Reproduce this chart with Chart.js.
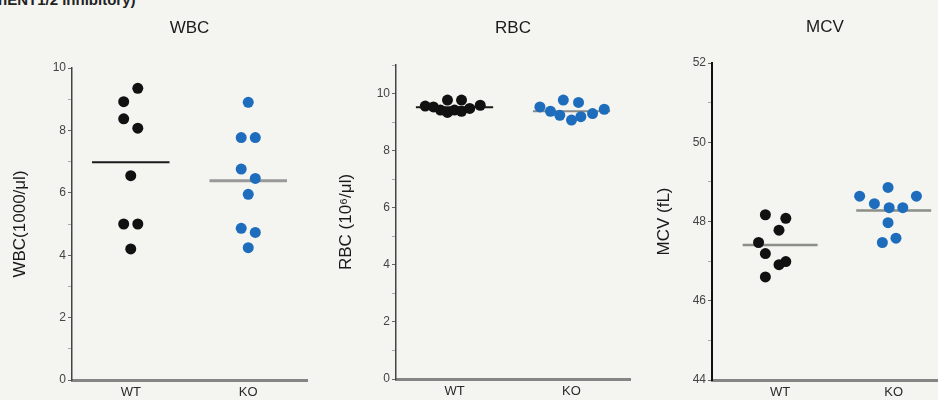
<!DOCTYPE html>
<html>
<head>
<meta charset="utf-8">
<script src="https://cdn.jsdelivr.net/npm/chart.js@4"></script>
<style>
body { margin: 0; background: #f4f4f1; width: 938px; height: 400px; overflow: hidden; position: relative; font-family: "Liberation Sans", Arial, sans-serif; }
canvas { position: absolute; top: 0; }
#wbc { left: 0; }
#rbc { left: 322px; }
#mcv { left: 640px; }
.cut { position: absolute; left: -2px; top: -9px; font-size: 15px; font-weight: bold; color: #222; }
</style>
</head>
<body>
<div class="cut">hENT1/2 inhibitory)</div>
<canvas id="wbc" width="312" height="400"></canvas>
<canvas id="rbc" width="312" height="400"></canvas>
<canvas id="mcv" width="298" height="400"></canvas>
<script>
var groups = ['WT', 'KO'];

// WBC
var wbcWT = [9.35, 8.92, 8.37, 8.07, 6.55, 5.0, 5.0, 4.2];
var wbcWTJit = [0.06, -0.06, -0.06, 0.06, 0, -0.06, 0.06, 0];
var wbcKO = [8.9, 7.77, 7.77, 6.76, 6.46, 5.95, 4.86, 4.73, 4.24];
var wbcKOJit = [0, -0.06, 0.06, -0.06, 0.06, 0, -0.06, 0.06, 0];
var wbcMean = [6.98, 6.39];

// RBC
var rbcWT = [9.56, 9.53, 9.42, 9.77, 9.34, 9.42, 9.77, 9.38, 9.48, 9.59];
var rbcWTJit = [-0.25, -0.18, -0.12, -0.06, -0.06, 0, 0.06, 0.06, 0.13, 0.22];
var rbcKO = [9.53, 9.38, 9.24, 9.77, 9.07, 9.69, 9.19, 9.30, 9.45];
var rbcKOJit = [-0.27, -0.18, -0.1, -0.07, 0, 0.06, 0.08, 0.18, 0.28];
var rbcMean = [9.52, 9.38];

// MCV
var mcvWT = [48.17, 48.08, 47.78, 47.47, 47.19, 46.99, 46.91, 46.6];
var mcvWTJit = [-0.13, 0.05, -0.01, -0.19, -0.13, 0.05, -0.01, -0.13];
var mcvKO = [48.86, 48.64, 48.64, 48.45, 48.35, 48.35, 47.97, 47.47, 47.58];
var mcvKOJit = [-0.05, -0.3, 0.2, -0.17, -0.04, 0.08, -0.05, -0.1, 0.02];
var mcvMean = [47.41, 48.28];

var BLACK = '#111111';
var BLUE = '#1e6dbd';

var panelTitle = {
    id: 'panelTitle',
    afterDraw: function (chart, args, opts) {
        var ctx = chart.ctx, a = chart.chartArea;
        ctx.save();
        ctx.font = '17px "Liberation Sans", Arial, sans-serif';
        ctx.fillStyle = '#1a1a1a';
        ctx.textAlign = 'center';
        ctx.textBaseline = 'middle';
        ctx.fillText(opts.text, (a.left + a.right) / 2, opts.y);
        ctx.restore();
    }
};

function pts(vals, jit, g) {
    return vals.map(function (v, i) { return { x: g + jit[i], y: v }; });
}

function meanLine(m, g) {
    return [{ x: g - 0.33, y: m }, { x: g + 0.33, y: m }];
}

function makePanel(id, o) {
    new Chart(document.getElementById(id), {
        type: 'scatter',
        data: {
            datasets: [
                { data: pts(o.wt, o.wtJit, 1), backgroundColor: BLACK, borderColor: BLACK, pointRadius: o.r, pointBorderWidth: 0, clip: false },
                { data: pts(o.ko, o.koJit, 2), backgroundColor: BLUE, borderColor: BLUE, pointRadius: o.r, pointBorderWidth: 0, clip: false },
                { type: 'line', data: meanLine(o.mean[0], 1), borderColor: o.wtLine, borderWidth: o.wtLineW, pointRadius: 0 },
                { type: 'line', data: meanLine(o.mean[1], 2), borderColor: o.koLine, borderWidth: o.koLineW, pointRadius: 0 }
            ]
        },
        options: {
            responsive: false,
            animation: false,
            layout: { autoPadding: false, padding: o.pad },
            plugins: {
                legend: { display: false },
                tooltip: { enabled: false },
                panelTitle: { text: o.title, y: o.titleY }
            },
            scales: {
                x: {
                    type: 'linear',
                    min: o.xmin,
                    max: o.xmax,
                    afterBuildTicks: function (s) { s.ticks = [{ value: 1 }, { value: 2 }]; },
                    afterFit: function (s) { s.height = 20; },
                    ticks: {
                        callback: function (v) { return groups[v - 1]; },
                        color: '#2a2a2a',
                        font: { size: 13, family: '"Liberation Sans", Arial, sans-serif' },
                        padding: 5,
                        maxRotation: 0
                    },
                    grid: { display: true, drawOnChartArea: false, drawTicks: false },
                    border: { display: true, color: '#858585', width: 3 }
                },
                y: {
                    min: o.ymin,
                    max: o.ymax,
                    afterFit: function (s) { s.width = o.yw; },
                    ticks: {
                        stepSize: 1,
                        callback: function (v) { return (v - o.ymin) % 2 === 0 ? v : ''; },
                        color: '#444',
                        font: { size: 12, family: '"Liberation Sans", Arial, sans-serif' },
                        padding: 2
                    },
                    grid: {
                        drawOnChartArea: false,
                        tickLength: 4,
                        tickColor: function (c) { return c.tick && (c.tick.value - o.ymin) % 2 === 0 ? '#666' : '#aaa'; }
                    },
                    border: { display: true, color: o.yAxisColor, width: o.yAxisW },
                    title: {
                        display: true,
                        text: o.yTitle,
                        color: '#1a1a1a',
                        font: { size: 17, family: '"Liberation Sans", Arial, sans-serif' },
                        padding: { top: 0, bottom: 0 }
                    }
                }
            }
        },
        plugins: [panelTitle]
    });
}

makePanel('wbc', {
    title: 'WBC', titleY: 28, yTitle: 'WBC(1000/\u03bcl)',
    wt: wbcWT, wtJit: wbcWTJit, ko: wbcKO, koJit: wbcKOJit, mean: wbcMean,
    ymin: 0, ymax: 10, xmin: 0.5, xmax: 2.5,
    pad: { top: 68, right: 5, bottom: 0, left: 10 }, yw: 62,
    r: 5.5, wtLine: '#1a1a1a', wtLineW: 2, koLine: '#999', koLineW: 3,
    yAxisColor: '#444', yAxisW: 1.5
});

makePanel('rbc', {
    title: 'RBC', titleY: 28, yTitle: 'RBC (10\u2076/\u03bcl)',
    wt: rbcWT, wtJit: rbcWTJit, ko: rbcKO, koJit: rbcKOJit, mean: rbcMean,
    ymin: 0, ymax: 11, xmin: 0.5, xmax: 2.5,
    pad: { top: 65, right: 4, bottom: 1, left: 14 }, yw: 60,
    r: 5.5, wtLine: '#1a1a1a', wtLineW: 2, koLine: '#8a8a8a', koLineW: 2,
    yAxisColor: '#444', yAxisW: 1.5
});

makePanel('mcv', {
    title: 'MCV', titleY: 27, yTitle: 'MCV (fL)',
    wt: mcvWT, wtJit: mcvWTJit, ko: mcvKO, koJit: mcvKOJit, mean: mcvMean,
    ymin: 44, ymax: 52, xmin: 0.4, xmax: 2.39,
    pad: { top: 63, right: 0, bottom: 0, left: 14 }, yw: 58,
    r: 5.5, wtLine: '#8a8f88', wtLineW: 2.5, koLine: '#8a8f88', koLineW: 2.5,
    yAxisColor: '#111', yAxisW: 2
});
</script>
</body>
</html>
